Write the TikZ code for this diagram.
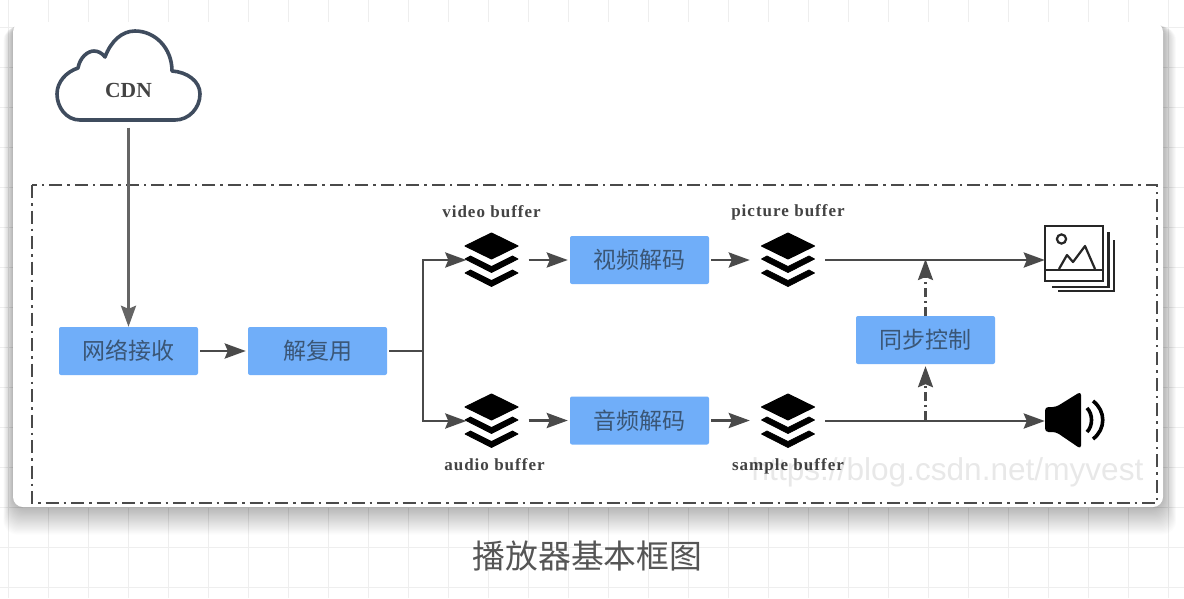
\documentclass[tikz,border=0pt]{standalone}
\usepackage{fontspec}
\setmainfont{Liberation Serif}
\newfontfamily\cjk{Noto Sans CJK SC}
\newfontfamily\wmfont{Liberation Sans}
\usetikzlibrary{arrows.meta,calc}
\definecolor{boxblue}{HTML}{70AEF9}
\definecolor{boxtext}{HTML}{3A5676}
\definecolor{linegray}{HTML}{4A4A4A}
\definecolor{cloudline}{HTML}{3F4C5E}
\definecolor{gridline}{HTML}{EEEEEE}
\definecolor{titlecol}{HTML}{555555}
\tikzset{
  x=1pt,y=-1pt,
  procbox/.style={fill=boxblue,rounded corners=2pt,minimum width=139pt,minimum height=48pt,inner sep=0pt,
    text=boxtext,font=\cjk\fontsize{23}{25}\selectfont},
  iconholder/.style={minimum width=54pt,minimum height=54pt,inner sep=0pt},
  flow/.style={draw=linegray,line width=2.8pt,-{Stealth[length=21pt,width=15pt,inset=3pt]}},
  plainflow/.style={draw=linegray,line width=2.8pt},
  syncflow/.style={draw=linegray,line width=2.4pt,dash pattern=on 9pt off 4pt on 2pt off 4pt,
    -{Stealth[length=21pt,width=15pt,inset=3pt]}},
  frameline/.style={draw=linegray,line width=2.8pt,dash pattern=on 13pt off 5pt on 2.5pt off 5pt},
  buflabel/.style={inner sep=0pt,text=linegray!90!black,font=\bfseries\fontsize{17}{19}\selectfont\addfontfeatures{LetterSpace=6}},
  stackicon/.pic={
    \fill[black,line join=round,line width=1pt,draw=black] (0,-27) -- (26.5,-14) -- (0,-1) -- (-26.5,-14) -- cycle;
    \foreach \d in {0,14}{
      \fill[black,draw=black,line join=round,line width=.8pt,shift={(0,\d)}]
        (-26.5,-1) -- (-21,-4) -- (0,6.5) -- (21,-4) -- (26.5,-1) -- (0,12.5) -- cycle;
    }
  }
}
\begin{document}
\begin{tikzpicture}
\useasboundingbox (0,0) rectangle (1184,598);
\fill[white] (0,0) rectangle (1184,598);
% background grid
\foreach \gx in {8,48,...,1168} \draw[gridline,line width=.8pt] (\gx,0) -- (\gx,598);
\foreach \gy in {27,67,...,587} \draw[gridline,line width=.8pt] (0,\gy) -- (1184,\gy);
% card shadow and card
\foreach \i in {1,...,24}
  \fill[black,opacity=.013,rounded corners=14pt] (13-\i*.4,22+\i*.2) rectangle (1163+\i*.55,507+\i*1.15);
\fill[white,rounded corners=10pt] (13,22) rectangle (1163,507);
% frame
\draw[frameline] (32,185) rectangle (1157,503);
% cloud
\node[minimum width=144pt,minimum height=90pt,inner sep=0pt] (cloud) at (128.5,75.5) {};
\draw[cloudline,line width=3.6pt,line join=round]
  (80,120) .. controls (66,120) and (57,107) .. (57,94)
  .. controls (57,82) and (66,72) .. (78,68)
  .. controls (80,57) and (88,51) .. (94,51)
  .. controls (98,51) and (102,53) .. (105,57)
  .. controls (111,41) and (122,31) .. (135,31)
  .. controls (155,31) and (172,48) .. (172,71)
  .. controls (187,72) and (200,81) .. (200,94)
  .. controls (200,108) and (189,120) .. (175,120) -- cycle;
\node[inner sep=0pt,text=linegray!90!black,font=\bfseries\fontsize{21.5}{23}\selectfont] (cdn) at (128.5,90) {CDN};
% process boxes
\node[procbox] (net) at (128.5,351) {网络接收};
\node[procbox] (demux) at (317.5,351) {解复用};
\node[procbox] (vdec) at (639.5,260) {视频解码};
\node[procbox] (adec) at (639.5,420.5) {音频解码};
\node[procbox] (sync) at (925.5,340) {同步控制};
% stack icons
\node[iconholder] (vbuf) at (491.5,260) {};
\node[iconholder] (pbuf) at (788,260) {};
\node[iconholder] (abuf) at (491.5,421) {};
\node[iconholder] (sbuf) at (788,421) {};
\pic at (vbuf) {stackicon};
\pic at (pbuf) {stackicon};
\pic at (abuf) {stackicon};
\pic at (sbuf) {stackicon};
\node[buflabel] (vlabel) at (491.5,212) {video buffer};
\node[buflabel] (plabel) at (788,212) {picture buffer};
\node[buflabel] (alabel) at (494.5,465) {audio buffer};
\node[buflabel] (slabel) at (788,466) {sample buffer};
% picture icon
\node[minimum width=58pt,minimum height=55pt,inner sep=0pt] (pic) at (1074,253.5) {};
\draw[black!85,line width=2.4pt] (pic.south west) rectangle (pic.north east);
\draw[black!85,line width=2.4pt] (1045,270) -- (1103,270);
\draw[black!85,line width=2.4pt] (1052,287) -- (1108.5,287) -- (1108.5,232);
\draw[black!85,line width=2.4pt] (1058,291) -- (1114,291) -- (1114,240);
\draw[black!85,line width=2.2pt] (1061.5,239) circle (4.6);
\draw[black!85,line width=2.2pt,line join=round] (1059,269) -- (1067,255) -- (1073,262) -- (1085,246) -- (1095,269);
% speaker icon
\node[minimum width=60pt,minimum height=55pt,inner sep=0pt] (spk) at (1075,420.5) {};
\fill[black,rounded corners=3.5pt] (1045,407) -- (1056,407) -- (1081,391.5) -- (1081,449) -- (1056,432) -- (1045,432) -- cycle;
\draw[black,line width=3.6pt] (1087,408) .. controls (1093,414) and (1093,426) .. (1087,432);
\draw[black,line width=3.6pt] (1093,401) .. controls (1106,411) and (1106,429) .. (1093,439);
% connectors
\coordinate (split) at (423,351);
\coordinate (syncup) at (925.5,259);
\coordinate (syncdown) at (925.5,420);
\draw[flow,draw=linegray!85,shorten <=7pt] (cloud.south) -- (net.north);
\draw[flow,shorten <=2pt,shorten >=2pt] (net.east) -- (demux.west);
\draw[plainflow,shorten <=2pt] (demux.east) -- (split);
\draw[flow] (split) |- ([xshift=2pt]vbuf.west);
\draw[flow] (split) |- ([xshift=2pt]abuf.west);
\draw[flow,shorten <=10pt,shorten >=2pt] (vbuf.east) -- (vdec.west);
\draw[flow,shorten <=10pt,shorten >=2pt] (abuf.east |- adec) -- (adec.west);
\draw[flow,shorten <=2pt,shorten >=11pt] (vdec.east) -- (pbuf.west);
\draw[flow,shorten <=2pt,shorten >=11pt] (adec.east) -- (sbuf.west |- adec);
\draw[flow,shorten <=10pt] (pbuf.east) -- (pic.west |- pbuf.east);
\draw[flow,shorten <=10pt] (sbuf.east) -- (spk.west |- sbuf.east);
\draw[syncflow] (sync.north) -- (syncup);
\draw[syncflow,shorten >=2pt] (syncdown) -- (sync.south);
% caption and watermark
\node[inner sep=0pt,text=titlecol,font=\cjk\fontsize{32.8}{35}\selectfont] (caption) at (587.5,556) {播放器基本框图};
\node[inner sep=0pt,text=black,opacity=.09,text opacity=.09,font=\wmfont\fontsize{31.6}{34}\selectfont] (mark) at (947.5,472) {https://blog.csdn.net/myvest};
\end{tikzpicture}
\end{document}
